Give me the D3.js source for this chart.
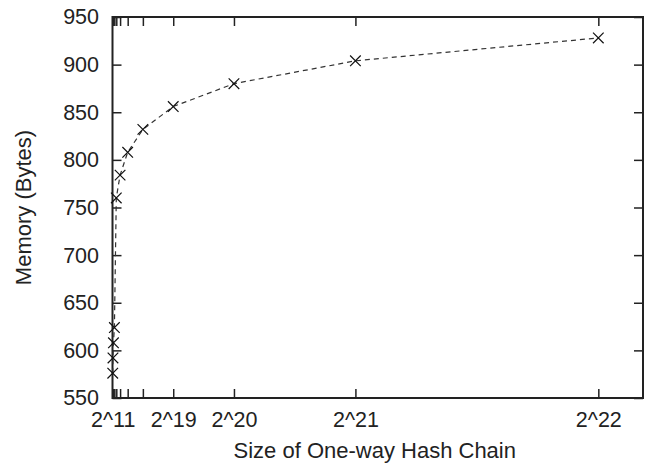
<!DOCTYPE html>
<meta charset="utf-8">
<style>
body { margin: 0; background: #fff; }
text { font-family: "Liberation Sans", Arial, sans-serif; fill: #222; }
.axis path { display: none; }
.axis line { stroke: #222; stroke-width: 1.5; }
</style>
<body>
<script src="https://cdn.jsdelivr.net/npm/d3@7"></script>
<script>
// chain sizes 2^11 .. 2^22 and the memory needed for each
var exponents = [11, 12, 13, 14, 15, 16, 17, 18, 19, 20, 21, 22];
var memory = [576, 592, 608, 624, 760, 784, 808, 832, 856, 880, 904, 928];
var labelledExp = [11, 19, 20, 21, 22];
var yTicks = [550, 600, 650, 700, 750, 800, 850, 900, 950];

var data = exponents.map(function(e, i) {
  return {size: Math.pow(2, e), exp: e, mem: memory[i]};
});

var W = 648, H = 465;
var margin = {top: 17, right: 5, bottom: 67, left: 112.5};
var width = W - margin.left - margin.right,
    height = H - margin.top - margin.bottom;

var x = d3.scaleLinear().domain([0, 4.58e6]).range([0, width]);
var y = d3.scaleLinear().domain([550, 950]).range([height, 0]);

var svg = d3.select("body").append("svg")
    .attr("width", W)
    .attr("height", H)
  .append("g")
    .attr("transform", "translate(" + margin.left + "," + margin.top + ")");

var fmt = function(v) {
  var e = Math.round(Math.log2(v));
  return labelledExp.indexOf(e) >= 0 ? "2^" + e : "";
};
var xVals = data.map(function(d) { return d.size; });

// bottom axis, ticks pointing inward
svg.append("g")
    .attr("class", "axis")
    .attr("transform", "translate(0," + height + ")")
    .call(d3.axisBottom(x).tickValues(xVals).tickFormat(fmt)
      .tickSizeInner(-9).tickSizeOuter(0).tickPadding(14))
    .selectAll("text").style("font-size", "21.5px");

// top mirror ticks
svg.append("g")
    .attr("class", "axis")
    .call(d3.axisTop(x).tickValues(xVals).tickFormat("")
      .tickSizeInner(-9).tickSizeOuter(0));

// left axis
svg.append("g")
    .attr("class", "axis")
    .call(d3.axisLeft(y).tickValues(yTicks)
      .tickSizeInner(-9).tickSizeOuter(0).tickPadding(13.5))
    .selectAll("text").style("font-size", "21.5px");

// right mirror ticks
svg.append("g")
    .attr("class", "axis")
    .attr("transform", "translate(" + width + ",0)")
    .call(d3.axisRight(y).tickValues(yTicks).tickFormat("")
      .tickSizeInner(-9).tickSizeOuter(0));

// frame
svg.append("rect")
    .attr("width", width)
    .attr("height", height)
    .attr("fill", "none")
    .attr("stroke", "#222")
    .attr("stroke-width", 2);

// dashed line
var line = d3.line()
    .x(function(d) { return x(d.size); })
    .y(function(d) { return y(d.mem); });

svg.append("path")
    .datum(data)
    .attr("fill", "none")
    .attr("stroke", "#333")
    .attr("stroke-width", 1.2)
    .attr("stroke-dasharray", "5,4")
    .attr("d", line);

// cross markers
var r = 5.3;
svg.selectAll(".pt")
    .data(data)
  .enter().append("path")
    .attr("class", "pt")
    .attr("transform", function(d) { return "translate(" + x(d.size) + "," + y(d.mem) + ")"; })
    .attr("d", "M" + (-r) + "," + (-r) + "L" + r + "," + r + "M" + (-r) + "," + r + "L" + r + "," + (-r))
    .attr("stroke", "#111")
    .attr("stroke-width", 1.2)
    .attr("fill", "none");

// axis titles
svg.append("text")
    .attr("x", width / 2 - 3)
    .attr("y", height + 60)
    .attr("text-anchor", "middle")
    .style("font-size", "22px")
    .text("Size of One-way Hash Chain");

svg.append("text")
    .attr("transform", "translate(" + (31 - margin.left) + "," + (height / 2) + ") rotate(-90)")
    .attr("text-anchor", "middle")
    .style("font-size", "22px")
    .text("Memory (Bytes)");
</script>
</body>
